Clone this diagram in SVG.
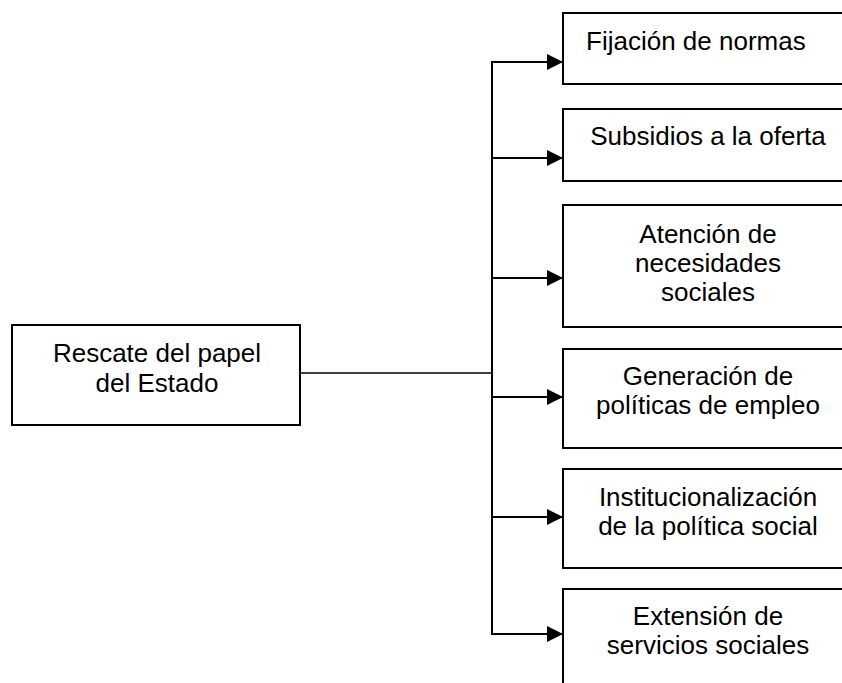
<svg xmlns="http://www.w3.org/2000/svg" width="842" height="683" viewBox="0 0 842 683">
<defs>
<style>
.box{fill:#fff;stroke:#000;stroke-width:2}
.t{font-family:"Liberation Sans",Arial,sans-serif;font-size:26px;fill:#000;text-anchor:middle}
.arr{stroke:#000;stroke-width:2;fill:none;marker-end:url(#ah)}
.ln{stroke:#000;stroke-width:2;fill:none}
</style>
<marker id="ah" markerWidth="16" markerHeight="16" viewBox="0 0 16 16" refX="16" refY="8" orient="auto" markerUnits="userSpaceOnUse">
<path d="M0,0 L16,8 L0,16 Z" fill="#000"/>
</marker>
</defs>
<rect width="842" height="683" fill="#fff"/>
<g id="connectors">
<line x1="300" y1="373" x2="492" y2="373" stroke="#000" stroke-width="1.3"/>
<line class="ln" x1="492" y1="61" x2="492" y2="635"/>
<line class="arr" x1="491" y1="62" x2="563" y2="62"/>
<line class="arr" x1="491" y1="158" x2="563" y2="158"/>
<line class="arr" x1="491" y1="278" x2="563" y2="278"/>
<line class="arr" x1="491" y1="397" x2="563" y2="397"/>
<line class="arr" x1="491" y1="517" x2="563" y2="517"/>
<line class="arr" x1="491" y1="634" x2="563" y2="634"/>
</g>
<g id="n0">
<rect class="box" x="12" y="325" width="288" height="100"/>
<text class="t" x="157" y="362">Rescate del papel</text>
<text class="t" x="157" y="392">del Estado</text>
</g>
<g id="n1">
<rect class="box" x="563" y="13" width="300" height="71"/>
<text class="t" x="586" y="50" style="text-anchor:start">Fijación de normas</text>
</g>
<g id="n2">
<rect class="box" x="563" y="109" width="300" height="72"/>
<text class="t" x="708" y="145">Subsidios a la oferta</text>
</g>
<g id="n3">
<rect class="box" x="563" y="205" width="300" height="122"/>
<text class="t" x="708" y="243">Atención de</text>
<text class="t" x="708" y="272">necesidades</text>
<text class="t" x="708" y="301">sociales</text>
</g>
<g id="n4">
<rect class="box" x="563" y="349" width="300" height="99"/>
<text class="t" x="708" y="385">Generación de</text>
<text class="t" x="708" y="414">políticas de empleo</text>
</g>
<g id="n5">
<rect class="box" x="563" y="469" width="300" height="99"/>
<text class="t" x="708" y="506">Institucionalización</text>
<text class="t" x="708" y="535">de la política social</text>
</g>
<g id="n6">
<rect class="box" x="563" y="589" width="300" height="120"/>
<text class="t" x="708" y="625">Extensión de</text>
<text class="t" x="708" y="654">servicios sociales</text>
</g>
</svg>
